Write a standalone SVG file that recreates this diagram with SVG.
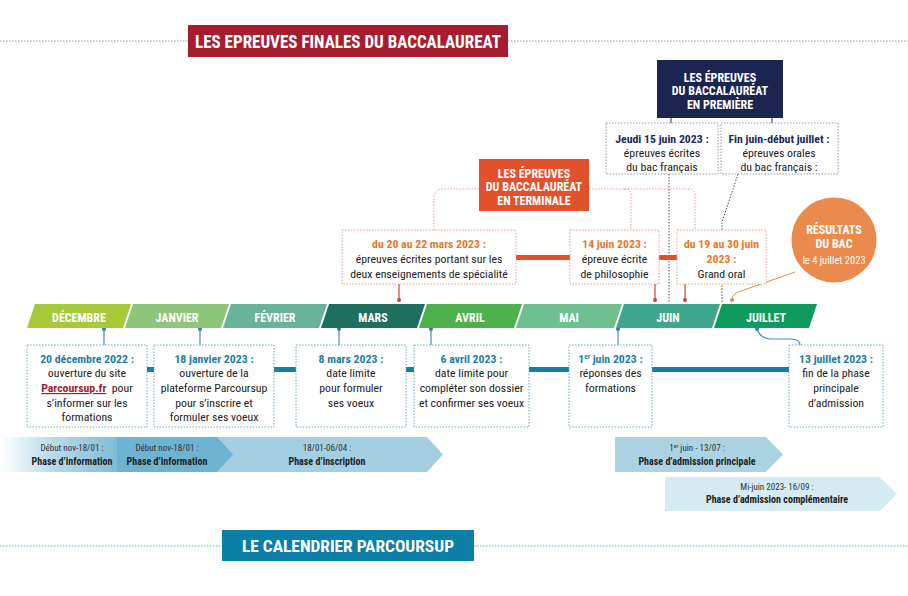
<svg xmlns="http://www.w3.org/2000/svg" width="908" height="596" viewBox="0 0 908 596">
<defs>
<style>
text{font-family:"Liberation Sans Narrow","Roboto Condensed","DejaVu Sans Condensed",Roboto,sans-serif;}
.t{font-size:11.8px;fill:#222;text-anchor:middle;}
.b{font-weight:bold;}
.or{fill:#e8782c;font-weight:bold;}
.bl{fill:#1f7ea6;font-weight:bold;}
.nv{fill:#1b2a5c;font-weight:bold;}
.w{fill:#fff;font-weight:bold;text-anchor:middle;}
.mo{fill:#fff;font-weight:bold;font-size:12px;text-anchor:middle;}
.ph{font-size:9px;fill:#333;text-anchor:middle;}
.phb{font-size:10px;fill:#222;font-weight:bold;text-anchor:middle;}
.bo{fill:#fff;stroke:#e6a08c;stroke-width:1;stroke-dasharray:1.5 1.5;}
.bb{fill:#fff;stroke:#6aa8c4;stroke-width:1;stroke-dasharray:1.5 1.5;}
.bg{fill:#fff;stroke:#999;stroke-width:1;stroke-dasharray:1.5 1.5;}
.dg{fill:none;stroke:#999;stroke-width:1;stroke-dasharray:1.5 1.5;}
.do{fill:none;stroke:#e6a08c;stroke-width:1;stroke-dasharray:1.5 1.5;}
.dk{fill:none;stroke:#555;stroke-width:1;stroke-dasharray:1.5 1.5;}
.lr{fill:none;stroke:#c8462c;stroke-width:1.2;}
.lb{fill:none;stroke:#4a8fae;stroke-width:1.2;}
</style>
<linearGradient id="g1" x1="0" y1="0" x2="1" y2="0">
<stop offset="0" stop-color="#ffffff"/>
<stop offset="0.45" stop-color="#b8dbe9"/>
<stop offset="1" stop-color="#7fbcd7"/>
</linearGradient>
</defs>
<rect width="908" height="596" fill="#fff"/>

<!-- section titles -->
<g id="title-bac">
<line x1="0" y1="41" x2="188" y2="41" class="dg"/>
<line x1="508" y1="41" x2="908" y2="41" class="dg"/>
<rect x="188" y="25" width="320" height="32" fill="#a71d2f"/>
<text x="348" y="48" class="w" font-size="18" textLength="306" lengthAdjust="spacingAndGlyphs">LES EPREUVES FINALES DU BACCALAUREAT</text>
</g>
<g id="title-parcoursup">
<line x1="0" y1="546" x2="222" y2="546" class="dg" style="stroke:#6aa8c4"/>
<line x1="474" y1="546" x2="908" y2="546" class="dg" style="stroke:#6aa8c4"/>
<rect x="222" y="530" width="252" height="31" fill="#0b7fa7"/>
<text x="348" y="552" class="w" font-size="17" textLength="212" lengthAdjust="spacingAndGlyphs">LE CALENDRIER PARCOURSUP</text>
</g>

<!-- connectors -->
<g id="connectors">
<line x1="671" y1="118" x2="671" y2="123" stroke="#333" stroke-width="1"/>
<line x1="772" y1="118" x2="772" y2="123" stroke="#333" stroke-width="1"/>
<path d="M669,174 V302" class="dk"/>
<path d="M738,174 L722,222 V302" class="dk"/>
<path d="M479,189 H443 Q434,189 434,198 V230" class="do"/>
<path d="M589,189 H688 Q695,189 695,196 V230" class="do"/>
<path d="M624,189 Q631,189 631,196 V230" class="do"/>
<rect x="516" y="255" width="54" height="5" fill="#e2512b"/>
<rect x="659" y="255" width="18" height="5" fill="#e2512b"/>
<path d="M399,284 V300" class="lr"/><circle cx="399" cy="300" r="2" fill="#c8462c"/>
<path d="M655,284 V300" class="lr"/><circle cx="655" cy="300" r="2" fill="#c8462c"/>
<path d="M685,284 V300" class="lr"/><circle cx="685" cy="300" r="2" fill="#c8462c"/>
<path d="M795,272 L744,290 Q732,293 732,299" fill="none" stroke="#e8894a" stroke-width="1"/><circle cx="732" cy="300" r="2" fill="#e8894a"/>
<rect x="147" y="367" width="7" height="5" fill="#137fa3"/>
<rect x="274" y="367" width="22" height="5" fill="#137fa3"/>
<rect x="406" y="367" width="8" height="5" fill="#137fa3"/>
<rect x="529" y="367" width="40" height="5" fill="#137fa3"/>
<rect x="652" y="367" width="137" height="5" fill="#137fa3"/>
<path d="M104,329 V345" class="lb"/><circle cx="104" cy="329" r="2" fill="#2a7fa6"/>
<path d="M200,329 V345" class="lb"/><circle cx="200" cy="329" r="2" fill="#2a7fa6"/>
<path d="M339,329 V345" class="lb"/><circle cx="339" cy="329" r="2" fill="#2a7fa6"/>
<path d="M431,329 V345" class="lb"/><circle cx="431" cy="329" r="2" fill="#2a7fa6"/>
<path d="M618,329 V345" class="lb"/><circle cx="618" cy="329" r="2" fill="#2a7fa6"/>
<path d="M757,329 Q760,338 770,339 L792,339 Q800,340 800,345" class="lb"/><circle cx="757" cy="329" r="2" fill="#2a7fa6"/>
</g>

<!-- months -->
<g id="months">
<polygon points="35,304 131,304 123,328 27,328" fill="#a6c93a"/>
<text x="79" y="322" class="mo">DÉCEMBRE</text>
<polygon points="133,304 229,304 221,328 125,328" fill="#8dc57a"/>
<text x="177" y="322" class="mo">JANVIER</text>
<polygon points="231,304 327,304 319,328 223,328" fill="#6ab39b"/>
<text x="275" y="322" class="mo">FÉVRIER</text>
<polygon points="329,304 425,304 417,328 321,328" fill="#1f6f5f"/>
<text x="373" y="322" class="mo">MARS</text>
<polygon points="427,304 522,304 514,328 419,328" fill="#4db04a"/>
<text x="470" y="322" class="mo">AVRIL</text>
<polygon points="524,304 622,304 614,328 516,328" fill="#6fbf91"/>
<text x="569" y="322" class="mo">MAI</text>
<polygon points="624,304 720,304 712,328 616,328" fill="#3ea68c"/>
<text x="668" y="322" class="mo">JUIN</text>
<polygon points="722,304 817,304 809,328 714,328" fill="#0f9b5d"/>
<text x="766" y="322" class="mo">JUILLET</text>
</g>

<!-- premiere -->
<g id="premiere">
<rect x="657" y="60" width="126" height="58" fill="#1b2550"/>
<text class="w" font-size="12"><tspan x="720" y="82">LES ÉPREUVES</tspan><tspan x="720" y="95">DU BACCALAURÉAT</tspan><tspan x="720" y="109">EN PREMIÈRE</tspan></text>
</g>
<g id="jeudi15">
<rect x="606" y="123" width="112" height="51" class="bg"/>
<text class="t"><tspan x="662" y="143" class="nv">Jeudi 15 juin 2023 :</tspan><tspan x="662" y="157">épreuves écrites</tspan><tspan x="662" y="171">du bac français</tspan></text>
</g>
<g id="finjuin">
<rect x="721" y="123" width="117" height="51" class="bg"/>
<text class="t"><tspan x="779" y="143" class="nv">Fin juin-début juillet :</tspan><tspan x="779" y="157">épreuves orales</tspan><tspan x="779" y="171">du bac français :</tspan></text>
</g>

<!-- terminale -->
<g id="terminale">
<rect x="479" y="159" width="110" height="52" fill="#e2512b"/>
<text class="w" font-size="12"><tspan x="534" y="178">LES ÉPREUVES</tspan><tspan x="534" y="191">DU BACCALAURÉAT</tspan><tspan x="534" y="205">EN TERMINALE</tspan></text>
</g>
<g id="mars2022">
<rect x="342" y="230" width="174" height="54" class="bo"/>
<text class="t"><tspan x="429" y="248" class="or">du 20 au 22 mars 2023 :</tspan><tspan x="429" y="263">épreuves écrites portant sur les</tspan><tspan x="429" y="278">deux enseignements de spécialité</tspan></text>
</g>
<g id="juin14">
<rect x="570" y="230" width="89" height="54" class="bo"/>
<text class="t"><tspan x="614.5" y="248" class="or">14 juin 2023 :</tspan><tspan x="614.5" y="263">épreuve écrite</tspan><tspan x="614.5" y="278">de philosophie</tspan></text>
</g>
<g id="grandoral">
<rect x="677" y="230" width="89" height="54" class="bo"/>
<text class="t"><tspan x="721.5" y="248" class="or">du 19 au 30 juin</tspan><tspan x="721.5" y="263" class="or">2023 :</tspan><tspan x="721.5" y="278">Grand oral</tspan></text>
</g>
<g id="resultats">
<circle cx="834" cy="240" r="44" fill="#ea8a4c" stroke="#fff" stroke-width="3"/>
<text class="w" font-size="12"><tspan x="834" y="234">RÉSULTATS</tspan><tspan x="834" y="248">DU BAC</tspan></text>
<text x="834" y="264" class="w" font-size="10.5" style="font-weight:normal">le 4 juillet 2023</text>
</g>

<!-- parcoursup boxes -->
<g id="dec20">
<rect x="27" y="345" width="120" height="82" class="bb"/>
<text class="t"><tspan x="87" y="363" class="bl">20 décembre 2022 :</tspan><tspan x="87" y="377">ouverture du site</tspan><tspan x="87" y="392"><tspan fill="#a51c30" font-weight="bold" text-decoration="underline">Parcoursup.fr</tspan>&#160; pour</tspan><tspan x="87" y="407">s’informer sur les</tspan><tspan x="87" y="421">formations</tspan></text>
</g>
<g id="jan18">
<rect x="154" y="345" width="120" height="82" class="bb"/>
<text class="t"><tspan x="214" y="363" class="bl">18 janvier 2023 :</tspan><tspan x="214" y="377">ouverture de la</tspan><tspan x="214" y="392">plateforme Parcoursup</tspan><tspan x="214" y="407">pour s’inscrire et</tspan><tspan x="214" y="421">formuler ses voeux</tspan></text>
</g>
<g id="mars8">
<rect x="296" y="345" width="110" height="82" class="bb"/>
<text class="t"><tspan x="351" y="363" class="bl">8 mars 2023 :</tspan><tspan x="351" y="377">date limite</tspan><tspan x="351" y="392">pour formuler</tspan><tspan x="351" y="407">ses voeux</tspan></text>
</g>
<g id="avril6">
<rect x="414" y="345" width="115" height="82" class="bb"/>
<text class="t"><tspan x="471.5" y="363" class="bl">6 avril 2023 :</tspan><tspan x="471.5" y="377">date limite pour</tspan><tspan x="471.5" y="392">compléter son dossier</tspan><tspan x="471.5" y="407">et confirmer ses voeux</tspan></text>
</g>
<g id="juin1">
<rect x="569" y="345" width="83" height="82" class="bb"/>
<text class="t"><tspan x="610.5" y="363" class="bl">1<tspan font-size="7" dy="-4">er</tspan><tspan dy="4"> juin 2023 :</tspan></tspan><tspan x="610.5" y="377">réponses des</tspan><tspan x="610.5" y="392">formations</tspan></text>
</g>
<g id="juillet13">
<rect x="789" y="345" width="94" height="82" class="bb"/>
<text class="t"><tspan x="836" y="363" class="bl">13 juillet 2023 :</tspan><tspan x="836" y="377">fin de la phase</tspan><tspan x="836" y="392">principale</tspan><tspan x="836" y="407">d’admission</tspan></text>
</g>

<!-- phases -->
<g id="phase-inscription">
<polygon points="118,437 427,437 443,454.5 427,472 118,472" fill="#a3cfe1"/>
<text x="327" y="451" class="ph">18/01-06/04 :</text>
<text x="327" y="465" class="phb">Phase d’inscription</text>
</g>
<g id="phase-info2">
<polygon points="117,437 217,437 233,454.5 217,472 117,472" fill="#6fb3d2"/>
<text x="167" y="451" class="ph">Début nov-18/01 :</text>
<text x="167" y="465" class="phb">Phase d’information</text>
</g>
<g id="phase-info1">
<rect x="0" y="437" width="117" height="35" fill="url(#g1)"/>
<text x="72" y="451" class="ph">Début nov-18/01 :</text>
<text x="72" y="465" class="phb">Phase d’information</text>
</g>
<g id="phase-admission">
<polygon points="615,437 766,437 783,454.5 766,472 615,472" fill="#acd3e2"/>
<text x="697" y="451" class="ph">1<tspan font-size="6" dy="-3">er</tspan><tspan dy="3"> juin - 13/07 :</tspan></text>
<text x="697" y="465" class="phb">Phase d’admission principale</text>
</g>
<g id="phase-complementaire">
<polygon points="665,477 880,477 897,494 880,511 665,511" fill="#d5eaf1"/>
<text x="777" y="490" class="ph">Mi-juin 2023- 16/09 :</text>
<text x="777" y="503" class="phb">Phase d’admission complémentaire</text>
</g>
</svg>
